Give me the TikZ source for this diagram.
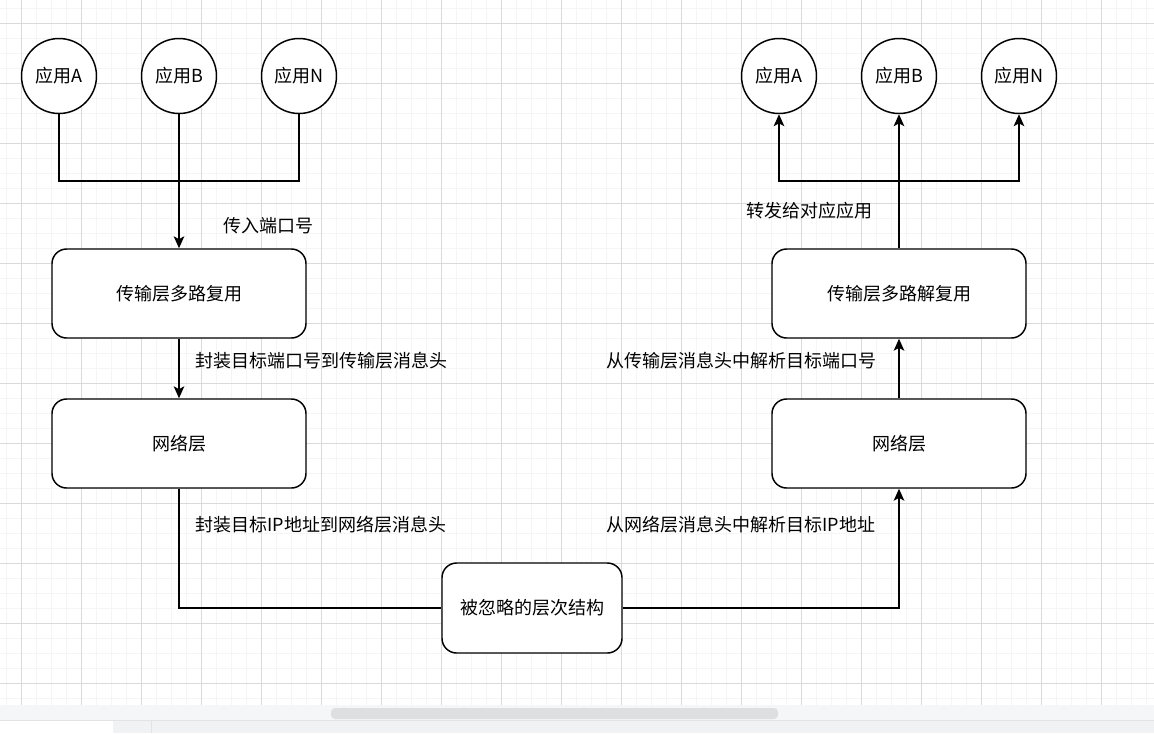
\documentclass[tikz,border=0pt]{standalone}
\usepackage{fontspec}
\setmainfont{Noto Sans CJK SC}
\usetikzlibrary{arrows.meta}
\definecolor{minorgrid}{HTML}{F5F5F5}
\definecolor{majorgrid}{HTML}{DADADA}
\definecolor{sbband}{HTML}{F5F6F8}
\definecolor{sbthumb}{HTML}{DEDFE1}
\definecolor{sbline}{HTML}{E2E3E5}
\definecolor{tabbar}{HTML}{F1F2F4}
\tikzset{
  conn/.style={line width=1.1pt, draw=black},
  arr/.style={conn, -{Stealth[length=9pt,width=8pt,inset=2.2pt]}},
  app/.style={circle, draw, line width=1.1pt, fill=white, minimum size=56.25pt, inner sep=0pt, font=\fontsize{13.5}{16}\selectfont},
  layer/.style={rectangle, rounded corners=11pt, draw, line width=1.1pt, fill=white, minimum width=190.5pt, minimum height=66.75pt, inner sep=0pt, font=\fontsize{13.5}{16}\selectfont},
  hidden/.style={layer, minimum width=135pt, minimum height=67.5pt},
  lbl/.style={inner sep=0pt, font=\fontsize{13.5}{16}\selectfont}
}
\begin{document}
\begin{tikzpicture}[x=0.75pt,y=-0.75pt]
\useasboundingbox (0,0) rectangle (1154,733);
% background grid
\fill[white] (0,0) rectangle (1154,705);
\foreach \gx in {6,21,...,1154} \draw[minorgrid, line width=0.75pt] (\gx,0) -- (\gx,705);
\foreach \gy in {8,23,...,705} \draw[minorgrid, line width=0.75pt] (0,\gy) -- (1154,\gy);
\foreach \gx in {21,81,...,1154} \draw[majorgrid, line width=0.75pt] (\gx,0) -- (\gx,705);
\foreach \gy in {23,83,...,705} \draw[majorgrid, line width=0.75pt] (0,\gy) -- (1154,\gy);
% scroll bar and bottom bar
\fill[sbband] (0,705) rectangle (1154,720);
\fill[sbthumb, rounded corners=3pt] (331,708) rectangle (778,719);
\fill[tabbar] (0,720) rectangle (1154,733);
\draw[sbline, line width=0.75pt] (0,720.5) -- (1154,720.5);
\fill[white] (0,721) rectangle (113,733);
\draw[sbline, line width=0.75pt] (151,721) -- (151,733);

% left side
\node[app] (la) at (59,76) {应用A};
\node[app] (lb) at (179,76) {应用B};
\node[app] (ln) at (299,76) {应用N};
\node[layer] (lt) at (179,293.5) {传输层多路复用};
\node[layer] (lw) at (179,443.5) {网络层};
% right side
\node[app] (ra) at (779,76) {应用A};
\node[app] (rb) at (899,76) {应用B};
\node[app] (rn) at (1019,76) {应用N};
\node[layer] (rt) at (899,293.5) {传输层多路解复用};
\node[layer] (rw) at (899,443.5) {网络层};
% hidden layers
\node[hidden] (hd) at (532,608) {被忽略的层次结构};

% labels
\node[lbl] (t1) at (268.5,226) {传入端口号};
\node[lbl] (t2) at (321,361) {封装目标端口号到传输层消息头};
\node[lbl] (t3) at (321,525) {封装目标IP地址到网络层消息头};
\node[lbl] (t4) at (741,361) {从传输层消息头中解析目标端口号};
\node[lbl] (t5) at (741,525) {从网络层消息头中解析目标IP地址};
\node[lbl] (t6) at (809,211) {转发给对应应用};

% connectors
\coordinate (lbus) at (179,181);
\coordinate (rbus) at (899,181);
\draw[conn] (la.south) |- (lbus) -| (ln.south);
\draw[arr] (lb.south) -- (lt.north);
\draw[arr] (lt.south) -- (lw.north);
\draw[conn] (lw.south) |- (hd.west);
\draw[arr] (hd.east) -| (rw.south);
\draw[arr] (rw.north) -- (rt.south);
\draw[conn] (rt.north) -- (rbus);
\draw[arr] (rbus) -| (ra.south);
\draw[arr] (rbus) -| (rn.south);
\draw[arr] (rbus) -- (rb.south);
\end{tikzpicture}
\end{document}
